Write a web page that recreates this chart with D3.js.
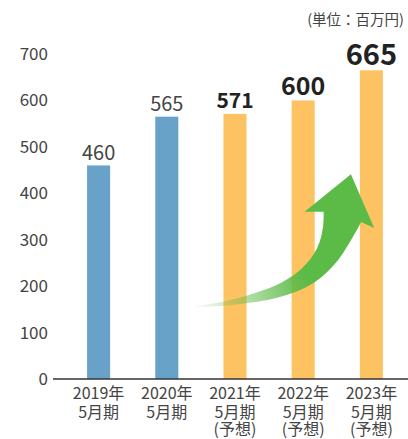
<!DOCTYPE html>
<html>
<head>
<meta charset="utf-8">
<script src="https://cdn.jsdelivr.net/npm/d3@7"></script>
<style>
  body { margin: 0; background: #fff; }
  svg { display: block; font-family: "Noto Sans CJK JP", "Noto Sans", sans-serif; }
</style>
</head>
<body>
<div id="chart"></div>
<script>
// Data
const years = ["2019年", "2020年", "2021年", "2022年", "2023年"];
const periods = ["5月期", "5月期", "5月期", "5月期", "5月期"];
const notes = ["", "", "(予想)", "(予想)", "(予想)"];
const values = [460, 565, 571, 600, 665];
const forecast = [false, false, true, true, true];
const yTicks = [0, 100, 200, 300, 400, 500, 600, 700];
const unitLabel = "(単位：百万円)";

// Label styling per bar (size grows toward the last year)
const labelSize = [20, 20, 21, 25, 29];
const labelWeight = ["normal", "normal", "bold", "bold", "bold"];

const W = 408, H = 439;
const axisLeft = 53, axisRight = 408;
const baseY = 379, topY = 54;

const svg = d3.select("#chart")
    .append("svg")
    .attr("width", W)
    .attr("height", H);

const x = d3.scaleBand()
    .domain(d3.range(values.length))
    .range([64.5, 405.5])
    .paddingInner(0.662)
    .paddingOuter(0.331);

const y = d3.scaleLinear()
    .domain([0, 700])
    .range([baseY, topY]);

// index -> bar centre, used for the decorative arrow
const xi = d3.scaleLinear()
    .domain([0, values.length - 1])
    .range([x(0) + x.bandwidth() / 2, x(values.length - 1) + x.bandwidth() / 2]);

// Unit label
svg.append("text")
    .attr("x", 404)
    .attr("y", 25)
    .attr("text-anchor", "end")
    .attr("fill", "#444")
    .style("font-size", "14.5px")
    .text(unitLabel);

// Y tick labels
svg.append("g")
    .selectAll("text")
    .data(yTicks)
    .enter()
    .append("text")
    .attr("x", 48)
    .attr("y", d => y(d))
    .attr("dy", "0.35em")
    .attr("text-anchor", "end")
    .attr("fill", "#444")
    .style("font-size", "17px")
    .text(d => d);

// Bars
svg.selectAll(".bar")
    .data(values)
    .enter()
    .append("rect")
    .attr("class", "bar")
    .attr("x", (d, i) => x(i))
    .attr("y", d => y(d))
    .attr("width", x.bandwidth())
    .attr("height", d => baseY - y(d))
    .attr("fill", (d, i) => forecast[i] ? "#fdc363" : "#68a2c9");

// Value labels
svg.selectAll(".val")
    .data(values)
    .enter()
    .append("text")
    .attr("class", "val")
    .attr("x", (d, i) => x(i) + x.bandwidth() / 2)
    .attr("y", d => y(d) - 5.5)
    .attr("text-anchor", "middle")
    .attr("fill", (d, i) => forecast[i] ? "#222" : "#444")
    .style("font-size", (d, i) => labelSize[i] + "px")
    .style("font-weight", (d, i) => labelWeight[i])
    .text(d => d);

// Growth arrow (decoration), points given in (bar index, value) space
const upper = [[1.35, 155], [1.93, 170], [2.67, 207], [3.0, 241], [3.21, 284], [3.29, 327], [3.30, 360]];
const head = [[3.02, 360], [3.70, 441], [4.04, 325], [3.85, 338]];
const lower = [[3.85, 338], [3.51, 256], [3.15, 207], [2.67, 177], [1.93, 159], [1.35, 155]];

const curve = d3.line()
    .x(d => xi(d[0]))
    .y(d => y(d[1]))
    .curve(d3.curveCatmullRom);
const straight = d3.line()
    .x(d => xi(d[0]))
    .y(d => y(d[1]));

const arrowPath = curve(upper)
    + straight(head).replace(/^M/, "L")
    + curve(lower).replace(/^M/, "L") + "Z";

const grad = svg.append("defs")
    .append("linearGradient")
    .attr("id", "arrowGrad")
    .attr("gradientUnits", "userSpaceOnUse")
    .attr("x1", xi(1.35)).attr("y1", y(155))
    .attr("x2", xi(3.3)).attr("y2", y(250));
grad.append("stop").attr("offset", "0").attr("stop-color", "#5cba47").attr("stop-opacity", 0);
grad.append("stop").attr("offset", "0.85").attr("stop-color", "#5cba47").attr("stop-opacity", 1);
grad.append("stop").attr("offset", "1").attr("stop-color", "#5cba47").attr("stop-opacity", 1);

svg.append("path")
    .attr("d", arrowPath)
    .attr("fill", "url(#arrowGrad)");

// Baseline
svg.append("line")
    .attr("x1", axisLeft)
    .attr("x2", axisRight)
    .attr("y1", baseY)
    .attr("y2", baseY)
    .attr("stroke", "#333")
    .attr("stroke-width", 1.5);

// X labels
const xl = svg.append("g")
    .selectAll("text")
    .data(years)
    .enter()
    .append("text")
    .attr("text-anchor", "middle")
    .attr("fill", "#444")
    .style("font-size", "16px");

xl.append("tspan")
    .attr("x", (d, i) => x(i) + x.bandwidth() / 2)
    .attr("y", 399)
    .text(d => d);
xl.append("tspan")
    .attr("x", (d, i) => x(i) + x.bandwidth() / 2)
    .attr("y", 418)
    .text((d, i) => periods[i]);
xl.append("tspan")
    .attr("x", (d, i) => x(i) + x.bandwidth() / 2)
    .attr("y", 435)
    .text((d, i) => notes[i]);
</script>
</body>
</html>
